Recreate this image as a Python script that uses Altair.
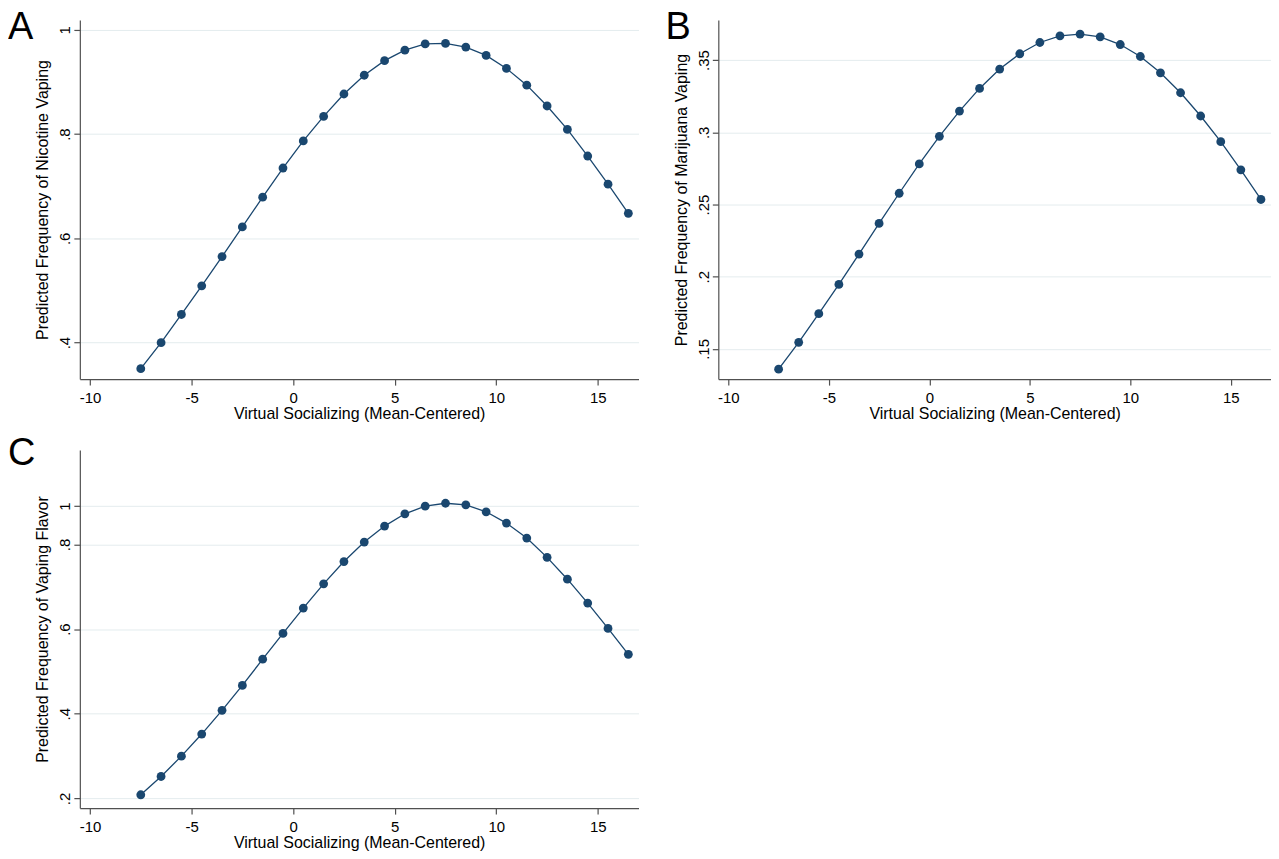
import json
import altair as alt
import pandas as pd

# values
x_vals = [-7.5, -6.5, -5.5, -4.5, -3.5, -2.5, -1.5, -0.5, 0.5, 1.5, 2.5, 3.5,
          4.5, 5.5, 6.5, 7.5, 8.5, 9.5, 10.5, 11.5, 12.5, 13.5, 14.5, 15.5, 16.5]

nicotine = [0.350, 0.400, 0.454, 0.509, 0.565, 0.622, 0.679, 0.735, 0.787, 0.834,
            0.877, 0.913, 0.941, 0.961, 0.973, 0.974, 0.967, 0.951, 0.926, 0.894,
            0.854, 0.809, 0.758, 0.704, 0.648]

marijuana = [0.1360, 0.1546, 0.1744, 0.1947, 0.2157, 0.2369, 0.2578, 0.2781, 0.2972,
             0.3147, 0.3304, 0.3438, 0.3544, 0.3622, 0.3668, 0.3680, 0.3661, 0.3608,
             0.3525, 0.3412, 0.3274, 0.3113, 0.2935, 0.2740, 0.2535]

flavor = [0.2086, 0.2518, 0.2998, 0.3520, 0.4080, 0.4668, 0.5288, 0.5898, 0.6495,
          0.7068, 0.7595, 0.8055, 0.8432, 0.8723, 0.8903, 0.8972, 0.8935, 0.8770,
          0.8503, 0.8149, 0.7694, 0.7178, 0.6613, 0.6016, 0.5403]

x_ticks = [-10, -5, 0, 5, 10, 15]
x_tick_labels = ["-10", "-5", "0", "5", "10", "15"]

a_ticks = [0.4, 0.6, 0.8, 1.0]
a_tick_labels = [".4", ".6", ".8", "1"]
b_ticks = [0.15, 0.2, 0.25, 0.3, 0.35]
b_tick_labels = [".15", ".2", ".25", ".3", ".35"]
# the top label of panel C sits at about .89 in the original
c_ticks = [0.2, 0.4, 0.6, 0.8, 0.8905]
c_tick_labels = [".2", ".4", ".6", ".8", "1"]

x_title = "Virtual Socializing (Mean-Centered)"

NAVY = "#1a476f"
FONT = "Liberation Sans"
AXIS_COLOR = "#505050"


def label_expr(values, labels):
    return f"{json.dumps(labels)}[indexof({json.dumps(values)}, datum.value)]"


def panel(letter, y, y_title, y_domain, y_ticks, y_labels, width, height, letter_x, letter_y):
    df = pd.DataFrame({"x": x_vals, "y": y})

    base = alt.Chart(df).encode(
        x=alt.X("x:Q",
                scale=alt.Scale(domain=[-10.5, 17.0], nice=False, zero=False),
                axis=alt.Axis(values=x_ticks, labelExpr=label_expr(x_ticks, x_tick_labels),
                              grid=False, title=x_title, labelPadding=5, titlePadding=0)),
        y=alt.Y("y:Q",
                scale=alt.Scale(domain=y_domain, nice=False, zero=False),
                axis=alt.Axis(values=y_ticks, labelExpr=label_expr(y_ticks, y_labels),
                              grid=True, gridColor="#e4ecee", title=y_title,
                              labelAngle=270, labelAlign="center", labelBaseline="bottom",
                              labelPadding=1, titlePadding=7)),
    )

    line = base.mark_line(color=NAVY, strokeWidth=1.3)
    dots = base.mark_circle(color=NAVY, size=78, opacity=1)

    tag = alt.Chart(pd.DataFrame({"tag": [letter]})).mark_text(
        align="left", baseline="top", fontSize=38, font=FONT, color="black"
    ).encode(text="tag:N", x=alt.value(letter_x), y=alt.value(letter_y))

    return alt.layer(line, dots, tag).properties(width=width, height=height)


chart_a = panel("A", nicotine, "Predicted Frequency of Nicotine Vaping",
                [0.33, 1.019], a_ticks, a_tick_labels, 560, 360, -72, -11)
chart_b = panel("B", marijuana, "Predicted Frequency of Marijuana Vaping",
                [0.1291, 0.3778], b_ticks, b_tick_labels, 554, 360, -53, -11)
chart_c = panel("C", flavor, "Predicted Frequency of Vaping Flavor",
                [0.1771, 1.0231], c_ticks, c_tick_labels, 560, 359, -72, -15)

chart = alt.concat(
    chart_a, chart_b, chart_c,
    columns=2,
    spacing=alt.RowColnumber(row=71, column=80),
    bounds="flush",
).properties(
    padding=0
).configure_view(
    stroke=None
).configure_axis(
    labelFont=FONT,
    titleFont=FONT,
    labelFontSize=15,
    titleFontSize=16,
    titleFontWeight="normal",
    labelColor="black",
    titleColor="black",
    domainColor=AXIS_COLOR,
    tickColor=AXIS_COLOR,
    domainWidth=1.2,
    tickWidth=1.2,
    tickSize=6,
    labelFlush=False,
    labelOverlap=False,
)

chart.save("out.html", embed_options={"renderer": "svg", "actions": False})
